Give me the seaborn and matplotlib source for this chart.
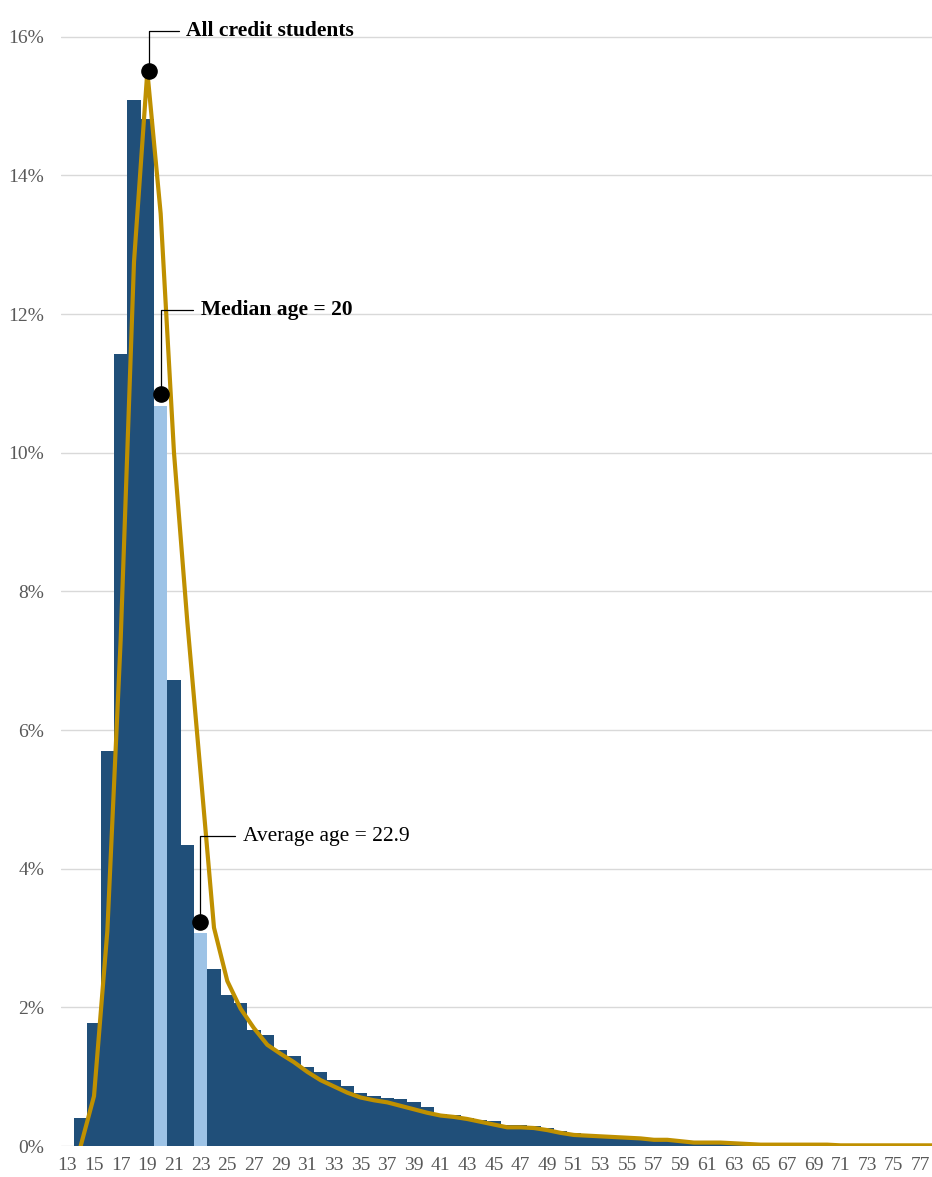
import numpy as np
import pandas as pd
import seaborn as sns
import matplotlib.pyplot as plt
from matplotlib.ticker import FuncFormatter

# share of credit students by age (bars) and the trend line (% of students)
ages = list(range(13, 78))
share = [0.00, 0.41, 1.78, 5.70, 11.43, 15.09, 14.82, 10.68, 6.72, 4.34,
         3.07, 2.55, 2.18, 2.07, 1.67, 1.60, 1.39, 1.30, 1.14, 1.07,
         0.95, 0.87, 0.77, 0.72, 0.70, 0.68, 0.63, 0.56, 0.46, 0.45,
         0.40, 0.38, 0.36, 0.31, 0.30, 0.29, 0.26, 0.22, 0.19, 0.17,
         0.16, 0.15, 0.13, 0.12, 0.11, 0.10, 0.08, 0.06, 0.05, 0.05,
         0.04, 0.03, 0.03, 0.02, 0.02, 0.02, 0.02, 0.01, 0.01, 0.01,
         0.01, 0.01, 0.01, 0.01, 0.01]
highlight_ages = [20, 23]

line_ages = list(range(14, 79))
trend = [0.00, 0.72, 3.10, 7.30, 12.75, 15.50, 13.45, 10.00, 7.56, 5.37,
         3.15, 2.38, 1.98, 1.70, 1.46, 1.33, 1.21, 1.07, 0.95, 0.86,
         0.77, 0.70, 0.66, 0.63, 0.58, 0.53, 0.48, 0.44, 0.42, 0.39,
         0.35, 0.31, 0.27, 0.27, 0.26, 0.23, 0.19, 0.16, 0.15, 0.14,
         0.13, 0.12, 0.11, 0.09, 0.09, 0.07, 0.05, 0.05, 0.05, 0.04,
         0.03, 0.02, 0.02, 0.02, 0.02, 0.02, 0.02, 0.01, 0.01, 0.01,
         0.01, 0.01, 0.01, 0.01, 0.01]

# callouts: label, dot (age, value), elbow height, text start age, bold
callout_labels = ['All credit students', 'Median age = 20', 'Average age = 22.9']
callout_ages = [19.1, 20.0, 22.95]
callout_values = [15.5, 10.85, 3.23]
callout_elbow = [16.08, 12.06, 4.47]
callout_text_age = [21.9, 23.0, 26.15]
callout_bold = [True, True, False]

dark_blue = '#204f79'
light_blue = '#9dc3e6'
gold = '#bf9000'

df = pd.DataFrame({'age': ages, 'share': share})
df['group'] = ['highlight' if a in highlight_ages else 'other' for a in df['age']]

sns.set_theme(style='white')
plt.rcParams['font.family'] = ['Liberation Serif', 'DejaVu Serif']

fig = plt.figure(figsize=(9.32, 11.77), dpi=100)
ax = fig.add_axes([0.0651, 0.0263, 0.9349, 0.9543])

sns.barplot(data=df, x='age', y='share', hue='group',
            palette={'highlight': light_blue, 'other': dark_blue},
            native_scale=True, width=1.0, dodge=False, legend=False,
            saturation=1, linewidth=0, ax=ax)
sns.lineplot(x=line_ages, y=trend, color=gold, linewidth=3.0, ax=ax, zorder=3)

for lab, xa, yv, ye, xt, bold in zip(callout_labels, callout_ages, callout_values,
                                     callout_elbow, callout_text_age, callout_bold):
    ax.plot([xa, xa, xt - 0.55], [yv, ye, ye], color='black', lw=0.9,
            clip_on=False, zorder=4)
    ax.scatter([xa], [yv], s=120, color='black', zorder=5, clip_on=False)
    ax.text(xt, ye, lab, fontsize=15.5, fontweight='bold' if bold else 'normal',
            va='center', ha='left', color='black')

ax.set_xlim(12.5, 77.86)
ax.set_ylim(0, 16.2)
ax.set_yticks(np.arange(0, 17, 2))
ax.set_xticks(ages[::2])
ax.yaxis.set_major_formatter(FuncFormatter(lambda v, p: f'{v:.0f}%'))
ax.tick_params(axis='both', length=0, labelsize=14, labelcolor='#595959')
ax.tick_params(axis='y', pad=12)
ax.tick_params(axis='x', pad=8)
ax.yaxis.grid(True, color='#d9d9d9', linewidth=1)
ax.set_axisbelow(True)
ax.set_xlabel('')
ax.set_ylabel('')
sns.despine(ax=ax, left=True, bottom=True)

plt.savefig('out.png', dpi=100)
